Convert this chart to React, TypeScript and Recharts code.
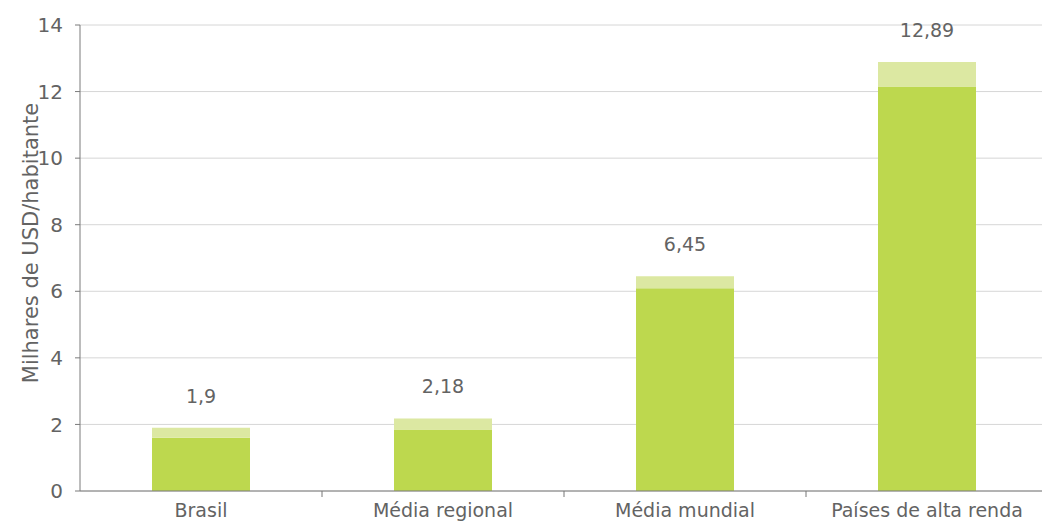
import { BarChart, Bar, XAxis, YAxis, CartesianGrid, LabelList, Label } from "recharts";

const categorias = ["Brasil", "Média regional", "Média mundial", "Países de alta renda"];
const totais = [1.9, 2.18, 6.45, 12.89];
const base = [1.6, 1.85, 6.09, 12.15];
const yTicks = [0, 2, 4, 6, 8, 10, 12, 14];

const data = categorias.map((nome, i) => ({
  nome,
  base: base[i],
  topo: +(totais[i] - base[i]).toFixed(2),
  rotulo: String(totais[i]).replace(".", ","),
}));

const FONT = "'DejaVu Sans', 'Liberation Sans', sans-serif";
const TXT = "#636363";

const XTick = (props: any) => {
  const { x, y, payload, index } = props;
  const half = payload?.offset ?? 121;
  return (
    <g>
      {index < categorias.length - 1 && (
        <line x1={x + half} x2={x + half} y1={y} y2={y + 6} stroke="#777" />
      )}
      <text x={x} y={y + 13} dy="0.71em" textAnchor="middle" fill={TXT} fontSize={19} fontFamily={FONT}>
        {payload.value}
      </text>
    </g>
  );
};

export default function App() {
  return (
    <div style={{ position: "absolute", left: 0, top: 0, width: 1042, height: 521, overflow: "hidden", background: "#fff" }}>
      <BarChart width={1056} height={521} data={data} margin={{ top: 25, right: 8, bottom: 0, left: 0 }} barCategoryGap={0}>
        <CartesianGrid vertical={false} stroke="#d6d6d6" />
        <XAxis
          dataKey="nome"
          height={30}
          axisLine={{ stroke: "#7a7a7a" }}
          tickLine={false}
          tickSize={0}
          tickMargin={0}
          interval={0}
          tick={<XTick />}
        />
        <YAxis
          width={80}
          domain={[0, 14]}
          ticks={yTicks}
          interval={0}
          axisLine={{ stroke: "#7a7a7a" }}
          tickLine={{ stroke: "#7a7a7a" }}
          tickSize={5}
          tickMargin={12}
          tick={{ fill: TXT, fontSize: 20, fontFamily: FONT }}
        >
          <Label
            content={() => (
              <text transform="translate(38, 243) rotate(-90)" textAnchor="middle" fill={TXT} fontSize={21} fontFamily={FONT}>
                Milhares de USD/habitante
              </text>
            )}
          />
        </YAxis>
        <Bar dataKey="base" stackId="a" fill="#bdd84e" barSize={98} isAnimationActive={false} />
        <Bar dataKey="topo" stackId="a" fill="#dce8a2" barSize={98} isAnimationActive={false}>
          <LabelList dataKey="rotulo" position="top" offset={25} fill={TXT} fontSize={19} fontFamily={FONT} />
        </Bar>
      </BarChart>
    </div>
  );
}
